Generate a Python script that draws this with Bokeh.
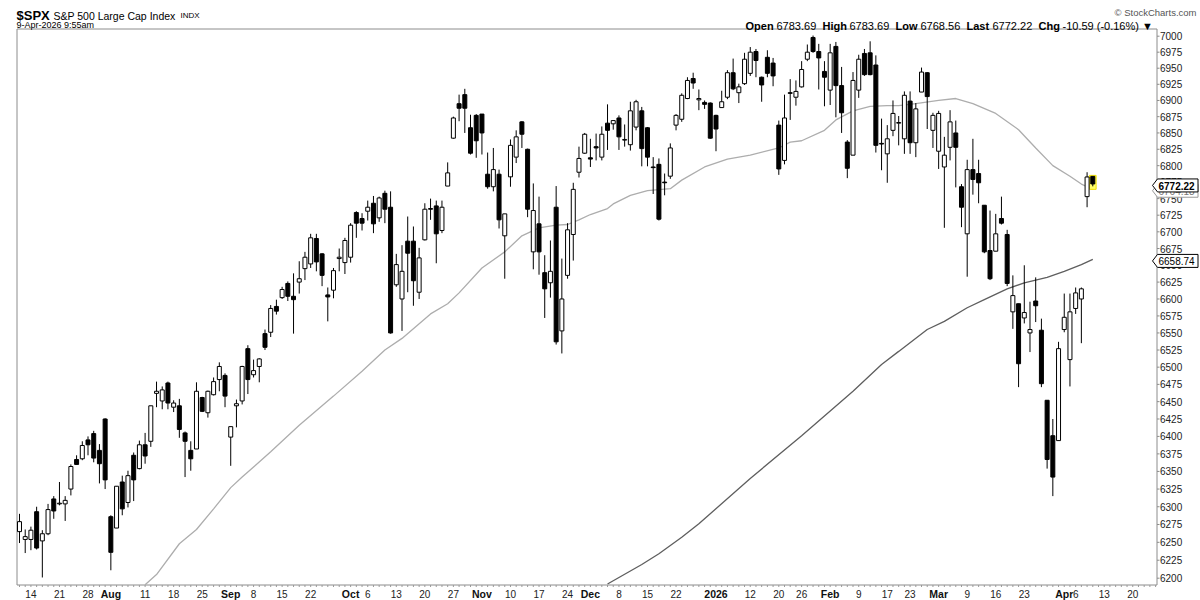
import math
from bokeh.plotting import figure
from bokeh.models import Range1d, LogScale
from bokeh.core.properties import value
from bokeh.embed import file_html
from bokeh.resources import INLINE

# ---- daily candles: trading-day index 0 = 10-Jul-2025 ... 188 = 9-Apr-2026 ----
opens = [6265, 6254, 6254, 6293, 6252, 6262, 6311, 6304, 6304, 6325,
         6367, 6368, 6395, 6404, 6380, 6425, 6286, 6270, 6335, 6306,
         6373, 6354, 6388, 6393, 6462, 6451, 6477, 6442, 6444, 6405,
         6380, 6382, 6456, 6434, 6460, 6482, 6488, 6399, 6444, 6451,
         6527, 6489, 6501, 6549, 6551, 6589, 6602, 6623, 6604, 6625,
         6645, 6652, 6690, 6667, 6606, 6613, 6660, 6654, 6662, 6729,
         6720, 6731, 6743, 6721, 6758, 6737, 6621, 6600, 6686, 6686,
         6610, 6688, 6735, 6739, 6702, 6769, 6842, 6895, 6909, 6858,
         6877, 6879, 6787, 6768, 6787, 6694, 6783, 6813, 6867, 6825,
         6670, 6712, 6639, 6624, 6737, 6553, 6635, 6696, 6790, 6819,
         6812, 6829, 6813, 6865, 6864, 6873, 6839, 6832, 6859, 6884,
         6858, 6798, 6802, 6775, 6784, 6862, 6871, 6903, 6934, 6901,
         6897, 6896, 6877, 6889, 6905, 6943, 6912, 6926, 6942, 6976,
         6936, 6967, 6958, 6862, 6808, 6912, 6905, 6921, 6964, 6998,
         6976, 6945, 6916, 6984, 6923, 6836, 6816, 6916, 6973, 6974,
         6955, 6834, 6818, 6854, 6865, 6841, 6899, 6835, 6913, 6943,
         6854, 6822, 6798, 6828, 6850, 6768, 6697, 6794, 6788, 6740,
         6672, 6671, 6720, 6696, 6581, 6593, 6572, 6550, 6597, 6554,
         6452, 6401, 6394, 6555, 6511, 6586, 6600, 6753, 6783.69]
highs = [6290, 6268, 6272, 6300, 6267, 6304, 6315, 6335, 6315, 6360,
         6373, 6393, 6400, 6408, 6389, 6426, 6288, 6329, 6344, 6351,
         6377, 6394, 6405, 6444, 6479, 6472, 6479, 6452, 6454, 6407,
         6393, 6478, 6457, 6466, 6485, 6507, 6491, 6414, 6453, 6502,
         6532, 6511, 6513, 6555, 6591, 6599, 6618, 6626, 6638, 6656,
         6670, 6697, 6697, 6668, 6617, 6646, 6675, 6691, 6713, 6731,
         6728, 6747, 6754, 6753, 6762, 6761, 6667, 6680, 6723, 6708,
         6676, 6743, 6750, 6747, 6747, 6805, 6875, 6909, 6918, 6878,
         6879, 6879, 6820, 6827, 6794, 6727, 6840, 6854, 6868, 6826,
         6773, 6753, 6665, 6687, 6769, 6660, 6713, 6774, 6829, 6850,
         6841, 6849, 6860, 6894, 6869, 6877, 6863, 6898, 6901, 6890,
         6859, 6813, 6811, 6788, 6834, 6879, 6911, 6936, 6943, 6917,
         6900, 6897, 6878, 6915, 6947, 6965, 6926, 6974, 6983, 6980,
         6937, 6978, 6966, 6869, 6909, 6933, 6931, 6961, 6987, 7001,
         6988, 6961, 6988, 6991, 6952, 6839, 6944, 6971, 6980, 6992,
         6970, 6872, 6862, 6900, 6876, 6914, 6914, 6896, 6951, 6944,
         6881, 6884, 6844, 6885, 6869, 6772, 6809, 6841, 6809, 6740,
         6732, 6727, 6753, 6703, 6635, 6593, 6650, 6596, 6632, 6571,
         6452, 6425, 6537, 6608, 6608, 6617, 6617, 6790, 6783.69]
lows = [6249, 6235, 6239, 6240, 6201, 6260, 6283, 6302, 6280, 6316,
        6360, 6366, 6373, 6363, 6333, 6325, 6211, 6270, 6288, 6299,
        6308, 6353, 6361, 6385, 6442, 6439, 6439, 6435, 6398, 6342,
        6351, 6382, 6435, 6427, 6459, 6465, 6442, 6358, 6413, 6446,
        6461, 6485, 6478, 6525, 6544, 6577, 6600, 6597, 6549, 6608,
        6628, 6646, 6641, 6619, 6567, 6601, 6641, 6637, 6654, 6691,
        6702, 6717, 6698, 6715, 6713, 6549, 6618, 6553, 6610, 6590,
        6600, 6687, 6718, 6653, 6698, 6769, 6841, 6868, 6850, 6817,
        6812, 6817, 6765, 6761, 6705, 6630, 6768, 6804, 6827, 6722,
        6644, 6636, 6572, 6602, 6533, 6520, 6630, 6657, 6782, 6818,
        6798, 6808, 6808, 6824, 6855, 6824, 6829, 6823, 6854, 6799,
        6799, 6757, 6717, 6755, 6780, 6854, 6867, 6902, 6918, 6885,
        6887, 6841, 6822, 6889, 6902, 6916, 6896, 6924, 6938, 6936,
        6898, 6936, 6922, 6786, 6802, 6870, 6892, 6920, 6961, 6974,
        6917, 6891, 6893, 6874, 6850, 6781, 6816, 6904, 6938, 6939,
        6820, 6793, 6774, 6845, 6831, 6818, 6818, 6813, 6913, 6856,
        6827, 6795, 6706, 6808, 6767, 6707, 6633, 6756, 6743, 6668,
        6628, 6671, 6711, 6619, 6556, 6471, 6564, 6522, 6566, 6471,
        6354, 6315, 6394, 6551, 6472, 6578, 6535, 6737, 6768.56]
closes = [6279, 6258, 6267, 6242, 6262, 6296, 6294, 6305, 6309, 6357,
          6360, 6387, 6388, 6369, 6361, 6338, 6236, 6329, 6297, 6344,
          6338, 6388, 6372, 6444, 6465, 6467, 6448, 6448, 6410, 6393,
          6368, 6465, 6436, 6465, 6479, 6501, 6458, 6414, 6447, 6501,
          6482, 6495, 6512, 6529, 6586, 6582, 6614, 6604, 6599, 6630,
          6662, 6691, 6655, 6635, 6603, 6642, 6662, 6687, 6710, 6713,
          6713, 6737, 6712, 6751, 6734, 6550, 6651, 6641, 6668, 6627,
          6661, 6734, 6734, 6697, 6737, 6789, 6873, 6888, 6888, 6819,
          6838, 6850, 6768, 6794, 6718, 6727, 6831, 6844, 6848, 6734,
          6732, 6670, 6615, 6641, 6537, 6600, 6703, 6764, 6811, 6848,
          6810, 6827, 6848, 6854, 6869, 6844, 6840, 6884, 6898, 6826,
          6813, 6797, 6719, 6774, 6827, 6877, 6908, 6931, 6927, 6903,
          6894, 6842, 6856, 6898, 6943, 6918, 6921, 6964, 6975, 6962,
          6924, 6942, 6938, 6795, 6873, 6911, 6914, 6948, 6975, 6976,
          6966, 6936, 6974, 6923, 6881, 6796, 6931, 6964, 6940, 6940,
          6831, 6833, 6841, 6880, 6866, 6908, 6835, 6887, 6944, 6906,
          6877, 6880, 6816, 6867, 6828, 6737, 6794, 6779, 6774, 6670,
          6630, 6697, 6713, 6623, 6605, 6505, 6580, 6555, 6590, 6476,
          6367, 6342, 6527, 6573, 6581, 6609, 6615, 6782.81, 6772.22]

# ---- moving averages (day index, value) ----
ma50_idx = [22, 24, 28, 31, 34, 37, 39, 44, 49, 55, 60, 64, 67, 72, 75, 77, 81, 85, 88, 91,
            94, 96, 98, 100, 103, 104, 107, 110, 114, 116, 120, 124, 128, 133, 135, 137, 141,
            143, 146, 149, 152, 154, 157, 161, 164, 167, 171, 175, 178, 181, 184, 186, 188]
ma50_val = [6191, 6205, 6248, 6268, 6297, 6327, 6342, 6378, 6416, 6458, 6494, 6525, 6542, 6578,
            6593, 6609, 6646, 6670, 6694, 6706, 6710, 6711, 6718, 6726, 6735, 6742, 6755, 6762,
            6765, 6778, 6798, 6810, 6816, 6827, 6836, 6838, 6854, 6870, 6884, 6891, 6892, 6892,
            6895, 6900, 6903, 6895, 6880, 6855, 6827, 6800, 6784, 6772, 6764.18]
ma200_idx = [103, 105, 109, 112, 116, 119, 128, 137, 146, 151, 154, 159, 162, 166, 169, 173,
             176, 180, 183, 186, 188]
ma200_val = [6192, 6201, 6219, 6234, 6257, 6276, 6340, 6401, 6465, 6504, 6523, 6555, 6567, 6587,
             6599, 6615, 6624, 6632, 6641, 6651, 6658.74]

# ---- axis labels ----
day_tick_idx = [2, 7, 12, 22, 27, 32, 41, 46, 51, 61, 66, 71, 76, 86, 91, 96, 105, 110, 115,
                128, 133, 137, 147, 152, 156, 166, 171, 176, 185, 190, 195]
day_tick_lbl = ["14", "21", "28", "11", "18", "25", "8", "15", "22", "6", "13", "20", "27",
                "10", "17", "24", "8", "15", "22", "12", "20", "26", "9", "17", "23", "9",
                "16", "23", "6", "13", "20"]
month_tick_idx = [16, 37, 58, 81, 100, 122, 142, 161, 183]
month_tick_lbl = ["Aug", "Sep", "Oct", "Nov", "Dec", "2026", "Feb", "Mar", "Apr"]
y_ticks = list(range(6200, 7001, 25))
all_days = list(range(0, 200))

# ---- layout (page pixels) ----
FONT = "Liberation Sans"
W, H = 1200, 600
DAY0_PX, DAY_PX = 19.0, 5.709
Y7000_PX, LOG_PX = 35.7, 4466.0
FR_L, FR_R, FR_T, FR_B = 16.5, 1156.5, 28.5, 584.5
FRAME_C = "#8c8c8c"
XLAB_BASE = 593.0


def xd(px):
    return (px - DAY0_PX) / DAY_PX


def yd(py):
    return 7000.0 * math.exp(-(py - Y7000_PX) / LOG_PX)


def ypx(v):
    return Y7000_PX + LOG_PX * math.log(7000.0 / v)


p = figure(width=W, height=H, output_backend="svg", toolbar_location=None, title=None,
           x_axis_location=None, y_axis_location=None, y_axis_type="log",
           x_range=Range1d(xd(0), xd(W)), y_range=Range1d(yd(H), yd(0)),
           min_border=0, min_border_left=0, min_border_right=0,
           min_border_top=0, min_border_bottom=0,
           outline_line_color=None, background_fill_color="white",
           border_fill_color="white")
p.y_scale = LogScale()
for g in p.grid:
    g.visible = False


def txt(px, py, s, size, bold=False, color="#000000", align="left", baseline="alphabetic"):
    p.text(x=[xd(px)], y=[yd(py)], text=[s], text_font=value(FONT),
           text_font_size=value(f"{size}px"), text_font_style="bold" if bold else "normal",
           text_color=color, text_align=align, text_baseline=baseline)


# frame
p.segment(x0=[xd(FR_L), xd(FR_L), xd(FR_L), xd(FR_R)],
          y0=[yd(FR_T), yd(FR_B), yd(FR_T), yd(FR_T)],
          x1=[xd(FR_R), xd(FR_R), xd(FR_L), xd(FR_R)],
          y1=[yd(FR_T), yd(FR_B), yd(FR_B), yd(FR_B)],
          line_color=FRAME_C, line_width=1)

# moving averages
p.line(ma200_idx, ma200_val, line_color="#5e5e5e", line_width=1.3)
p.line(ma50_idx, ma50_val, line_color="#adadad", line_width=1.3)

# highlight of the latest bar
last = len(opens) - 1
p.vbar(x=[last], width=1.17, top=[yd(ypx(highs[last]) - 1)], bottom=[yd(ypx(lows[last]) + 3)],
       fill_color="#ffff66", line_color="#f0e000", line_width=1)

# candles
tops = [max(o, c) for o, c in zip(opens, closes)]
bots = [min(o, c) for o, c in zip(opens, closes)]
fills = ["white" if c > o else "black" for o, c in zip(opens, closes)]
days = list(range(len(opens)))
p.segment(x0=days, y0=highs, x1=days, y1=lows, line_color="black", line_width=1)
p.vbar(x=days, width=0.7, top=tops, bottom=bots, fill_color=fills,
       line_color="black", line_width=1)

# x axis ticks + labels
p.segment(x0=all_days, y0=[yd(FR_B)] * len(all_days), x1=all_days,
          y1=[yd(FR_B + 2)] * len(all_days), line_color="#9a9a9a", line_width=1)
p.text(x=day_tick_idx, y=[yd(XLAB_BASE)] * len(day_tick_idx), text=day_tick_lbl,
       text_font=value(FONT), text_font_size=value("10px"), text_color="#222222",
       text_align="center", text_baseline="alphabetic")
p.text(x=month_tick_idx, y=[yd(XLAB_BASE)] * len(month_tick_idx), text=month_tick_lbl,
       text_font=value(FONT), text_font_size=value("10.5px"), text_font_style="bold",
       text_color="#111111", text_align="center", text_baseline="alphabetic")

# y axis ticks + labels (right)
p.segment(x0=[xd(FR_R)] * len(y_ticks), y0=y_ticks, x1=[xd(FR_R + 2.5)] * len(y_ticks),
          y1=y_ticks, line_color=FRAME_C, line_width=1)
p.text(x=[xd(1159.5)] * len(y_ticks), y=y_ticks, text=[str(v) for v in y_ticks],
       text_font=value(FONT), text_font_size=value("10px"), text_color="#222222",
       text_align="left", text_baseline="middle")

# header
txt(16, 15, "$SPX", 13, bold=True)
txt(53, 15, "S&P 500 Large Cap Index", 10.5)
txt(180, 15, "INDX", 8)
txt(16, 24, "9-Apr-2026 9:55am", 9)
txt(1196, 12, "\u00a9 StockCharts.com", 9.5, color="#555555", align="right")

chg = closes[-1] - closes[-2]
pct = chg / closes[-2] * 100
HY = 25.5
txt(745, HY, "Open", 11, bold=True)
txt(776, HY, f"{opens[-1]:.2f}", 11)
txt(822, HY, "High", 11, bold=True)
txt(849, HY, f"{highs[-1]:.2f}", 11)
txt(895, HY, "Low", 11, bold=True)
txt(920, HY, f"{lows[-1]:.2f}", 11)
txt(966, HY, "Last", 11, bold=True)
txt(992, HY, f"{closes[-1]:.2f}", 11)
txt(1038, HY, "Chg", 11, bold=True)
txt(1062, HY, f"{chg:.2f} ({pct:.2f}%) \u25bc", 11)


# value boxes on the right axis
def value_box(price, s, bold, line_color, text_color):
    c = ypx(price) + 1.5
    xs = [xd(1152), xd(1157), xd(1197.5), xd(1197.5), xd(1157)]
    ys = [yd(c), yd(c - 6.5), yd(c - 6.5), yd(c + 6.5), yd(c + 6.5)]
    p.patch(xs, ys, fill_color="white", line_color=line_color, line_width=1)
    txt(1158, c + 0.5, s, 10, bold=bold, color=text_color, baseline="middle")


value_box(ma50_val[-1], f"{ma50_val[-1]:.2f}", False, "#9a9a9a", "#777777")
value_box(closes[-1], f"{closes[-1]:.2f}", True, "#000000", "#000000")
value_box(ma200_val[-1], f"{ma200_val[-1]:.2f}", False, "#000000", "#000000")

open("out.html", "w").write(file_html(p, INLINE))
